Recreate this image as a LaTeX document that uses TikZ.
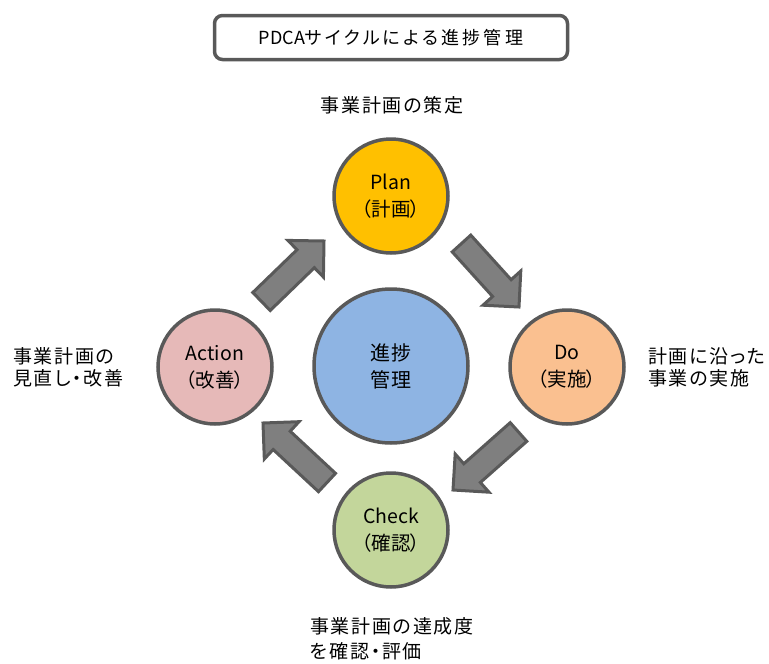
\documentclass[tikz,border=0pt]{standalone}
\usepackage{fontspec}
\usetikzlibrary{calc}
\newfontfamily\jp{Noto Sans CJK JP}
\newfontfamily\jplab[LetterSpace=9,RawFeature=+palt]{Noto Sans CJK JP}
\newfontfamily\jptitle[LetterSpace=18,RawFeature=+palt]{Noto Sans CJK JP}
\newfontfamily\jpc[RawFeature=+palt]{Noto Sans CJK JP}
\definecolor{bordergray}{HTML}{595959}
\definecolor{arrowgray}{HTML}{7F7F7F}
\definecolor{planc}{HTML}{FFC000}
\definecolor{doc}{HTML}{FAC090}
\definecolor{checkc}{HTML}{C3D69B}
\definecolor{actc}{HTML}{E6B9B8}
\definecolor{centc}{HTML}{8EB4E3}
\tikzset{
  phase/.style={circle, draw=bordergray, line width=3.5pt, inner sep=0pt,
    minimum size=114pt, align=center,
    font=\jpc\fontsize{19.5}{27}\selectfont},
  hub/.style={circle, draw=bordergray, line width=3.5pt, fill=centc, inner sep=0pt,
    minimum size=154pt, align=center,
    font=\jplab\fontsize{20}{27}\selectfont},
  lab/.style={inner sep=0pt, align=left, anchor=west,
    font=\jplab\fontsize{19}{22}\selectfont},
  titlebox/.style={draw=bordergray, line width=3.5pt, rounded corners=8pt,
    minimum width=353pt, minimum height=44pt, inner sep=0pt,
    font=\jptitle\fontsize{18}{20}\selectfont},
  arrowbox/.style={fill=arrowgray, draw=bordergray, line width=3pt, line join=miter}
}
\newcommand\blockarr[2]{%
  \coordinate (#1b) at ($(#2)!25.5pt!(#1)$);
  \draw[arrowbox] ($(#1)!12.5pt!90:(#2)$) -- ($(#1b)!12.5pt!90:(#2)$)
    -- ($(#1b)!25.5pt!90:(#2)$) -- (#2) -- ($(#1b)!25.5pt!-90:(#2)$)
    -- ($(#1b)!12.5pt!-90:(#2)$) -- ($(#1)!12.5pt!-90:(#2)$) -- cycle;
}
\begin{document}
\begin{tikzpicture}[x=1pt,y=-1pt]
\path[use as bounding box] (0,0) rectangle (769,664);
\node[titlebox] (title) at (391,37.5) {{\jp PDCA}サイクルによる進捗管理};

\node[phase, fill=planc] (plan) at (391,196) {Plan\\（計画）};
\node[phase, fill=doc] (do) at (567,367) {Do\\（実施）};
\node[phase, fill=checkc] (check) at (391,530) {Check\\（確認）};
\node[phase, fill=actc] (act) at (215,367) {Action\\（改善）};
\node[hub] (hub) at (391,366) {進捗\\管理};

\coordinate (a1s) at (261.5,301.5);
\coordinate (a1e) at (324,241);
\coordinate (a2s) at (461.5,243.5);
\coordinate (a2e) at (519,307);
\coordinate (a3s) at (518.5,432);
\coordinate (a3e) at (453,490);
\coordinate (a4s) at (327,482.5);
\coordinate (a4e) at (263,423);
\blockarr{a1s}{a1e}
\blockarr{a2s}{a2e}
\blockarr{a3s}{a3e}
\blockarr{a4s}{a4e}

\node[lab, anchor=center] (lplan) at (392,105) {事業計画の策定};
\node[lab] (ldo) at (648,367) {計画に沿った\\事業の実施};
\node[lab] (lact) at (13,367) {事業計画の\\見直し・改善};
\node[lab, font=\jplab\fontsize{19}{25}\selectfont] (lcheck) at (310,639) {事業計画の達成度\\を確認・評価};
\end{tikzpicture}
\end{document}
